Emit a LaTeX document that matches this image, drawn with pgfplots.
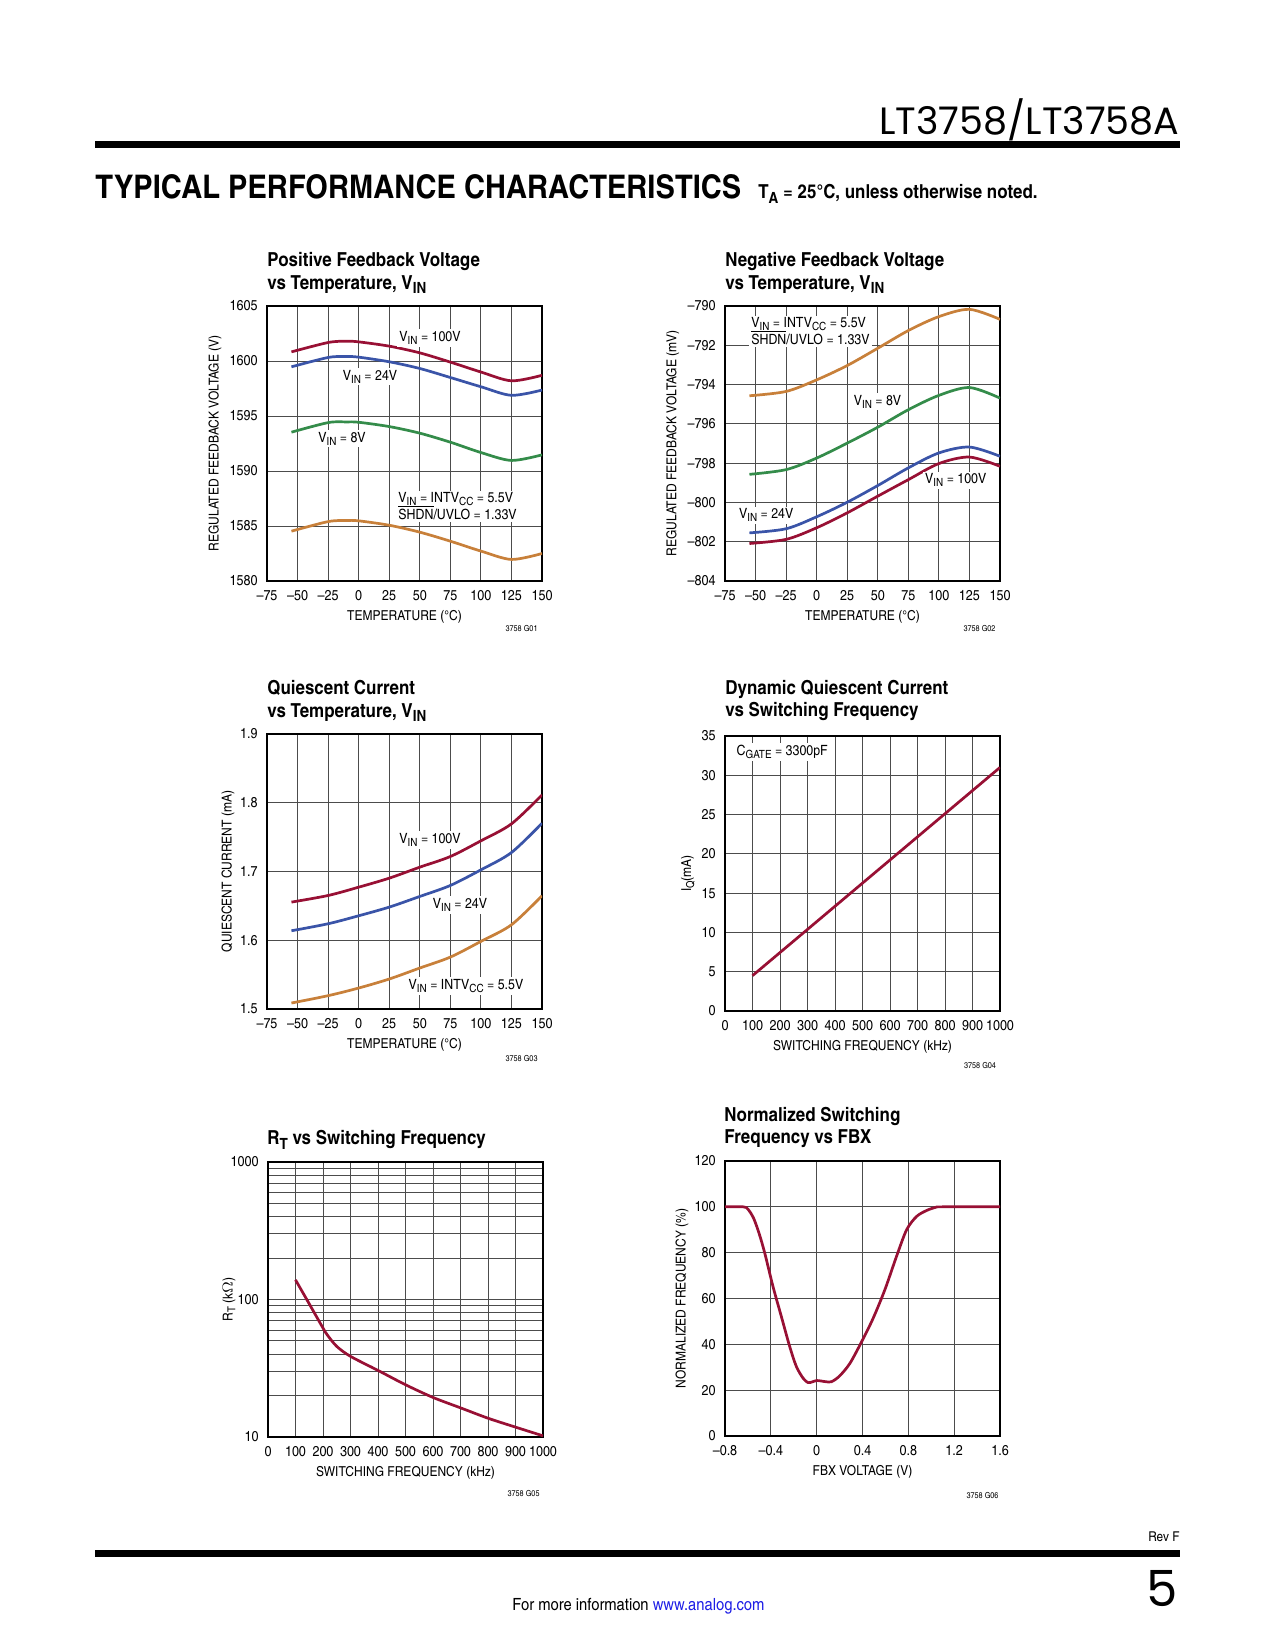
\documentclass[border=0pt]{standalone}
\usepackage{fontspec}
\setmainfont{texgyreheroscn}[Extension=.otf, UprightFont=*-regular, BoldFont=*-bold, ItalicFont=*-italic, BoldItalicFont=*-bolditalic, FakeStretch=1.07]
\newfontfamily\hdrfont{Poppins}
\usepackage{graphicx}
\usepackage{pgfplots}
\pgfplotsset{compat=1.18}

\definecolor{cred}{RGB}{152,16,52}
\definecolor{cblue}{RGB}{58,84,168}
\definecolor{cgreen}{RGB}{52,140,74}
\definecolor{corange}{RGB}{200,128,58}
\definecolor{linkblue}{RGB}{30,30,230}

\newcommand{\sub}[1]{\raisebox{-0.4ex}{\scalebox{0.8}{#1}}}

\pgfplotsset{
 lt/.style={
  scale only axis, width=132bp, height=132bp, anchor=north west,
  axis line style={line width=0.9bp, black},
  grid=major, major grid style={line width=0.45bp, black!70},
  minor grid style={line width=0.45bp, black!70},
  major tick length=0pt, minor tick length=0pt,
  tick label style={font=\fontsize{6.9}{8}\selectfont},
  xticklabel style={anchor=base, yshift=-9.4bp},
  yticklabel style={anchor=east, inner sep=0pt, xshift=-4.3bp},
  label style={font=\fontsize{6.6}{7.5}\selectfont},
  xlabel style={at={(axis description cs:0.5,-0.131)}, anchor=center},
 },
 crv/.style={line width=1.3bp, smooth},
}
\tikzset{lbl/.style={font=\fontsize{6.8}{7.8}\selectfont, fill=white, inner sep=1pt}}

\begin{document}
\begin{tikzpicture}
\fill[white] (0,0) rectangle (612bp,-792bp);
\path[use as bounding box] (0,0) rectangle (612bp,-792bp);

\begin{scope}[x=0.48bp,y=-0.48bp]
% header
\node[anchor=base east, inner sep=0] at (1180,135) {\resizebox{144bp}{!}{\hdrfont LT3758/LT3758A}};
\fill (95,141) rectangle (1180,148);
\node[anchor=base west, inner sep=0] at (95,199) {\resizebox{310bp}{11.5bp}{\bfseries TYPICAL PERFORMANCE CHARACTERISTICS}};
\node[anchor=base west, inner sep=0] at (758,199) {\resizebox{134bp}{!}{\fontsize{8.5}{10}\selectfont\bfseries T\sub{A} = 25°C, unless otherwise noted.}};
% footer
\node[anchor=base east, inner sep=0] at (1180,1542) {\fontsize{6.5}{8}\selectfont Rev F};
\fill (95,1550) rectangle (1180,1557);
\node[anchor=south east, inner sep=0] at (1178,1607) {\resizebox{!}{17.3bp}{\hdrfont 5}};
\node[anchor=base west, inner sep=0] at (512,1611) {\resizebox{121bp}{!}{For more information \textcolor{linkblue}{www.analog.com}}};
% chart titles
\tikzset{ttl/.style={anchor=base west, inner sep=0, font=\fontsize{9.3}{11}\selectfont\bfseries}}
\node[ttl] at (267,267) {Positive Feedback Voltage};
\node[ttl] at (267,289.5) {vs Temperature, V\sub{IN}};
\node[ttl] at (725,267) {Negative Feedback Voltage};
\node[ttl] at (725,289.5) {vs Temperature, V\sub{IN}};
\node[ttl] at (267,695) {Quiescent Current};
\node[ttl] at (267,717.5) {vs Temperature, V\sub{IN}};
\node[ttl] at (725,695) {Dynamic Quiescent Current};
\node[ttl] at (725,717) {vs Switching Frequency};
\node[ttl] at (267,1145) {R\sub{T} vs Switching Frequency};
\node[ttl] at (724,1121.5) {Normalized Switching};
\node[ttl] at (724,1144) {Frequency vs FBX};
% code labels
\tikzset{cde/.style={anchor=base east, inner sep=0, font=\fontsize{4}{5}\selectfont}}
\node[cde] at (538,631.5) {3758 G01};
\node[cde] at (996,632) {3758 G02};
\node[cde] at (538,1061.5) {3758 G03};
\node[cde] at (996.5,1069) {3758 G04};
\node[cde] at (540,1496.5) {3758 G05};
\node[cde] at (999,1499) {3758 G06};
\end{scope}

% ---------- Plot 1 ----------
\begin{axis}[lt, at={(128.16bp,-146.88bp)},
 xmin=-75, xmax=150, ymin=1580, ymax=1605,
 xtick={-75,-50,-25,0,25,50,75,100,125,150},
 xticklabels={\textendash75,\textendash50,\textendash25,0,25,50,75,100,125,150},
 ytick={1580,1585,1590,1595,1600,1605},
 yticklabels={1580,1585,1590,1595,1600,1605},
 xlabel={TEMPERATURE (°C)}, ylabel={REGULATED FEEDBACK VOLTAGE (V)},
 ylabel style={at={(axis description cs:-0.189,0.5)}, anchor=center}]
\addplot[cred, crv] coordinates {(-55,1600.83) (-25,1601.68) (-10,1601.8) (0,1601.74) (25,1601.35) (50,1600.74) (75,1599.9) (100,1599.0) (125,1598.2) (150,1598.7)};
\addplot[cblue, crv] coordinates {(-55,1599.47) (-25,1600.32) (-10,1600.41) (0,1600.35) (25,1599.93) (50,1599.32) (75,1598.5) (100,1597.66) (125,1596.88) (150,1597.36)};
\addplot[cgreen, crv] coordinates {(-55,1593.53) (-25,1594.4) (-10,1594.46) (0,1594.43) (25,1594.04) (50,1593.44) (75,1592.62) (100,1591.68) (125,1590.96) (150,1591.47)};
\addplot[corange, crv] coordinates {(-55,1584.53) (-25,1585.4) (-10,1585.5) (0,1585.47) (25,1585.07) (50,1584.44) (75,1583.62) (100,1582.72) (125,1581.96) (150,1582.5)};
\node[lbl] at (axis cs:58.4,1602.1) {V\sub{IN} = 100V};
\node[lbl] at (axis cs:9.3,1598.57) {V\sub{IN} = 24V};
\node[lbl] at (axis cs:-13.6,1592.95) {V\sub{IN} = 8V};
\node[lbl, anchor=west, align=left] at (axis cs:30.5,1586.8) {V\sub{IN} = INTV\sub{CC} = 5.5V\\[-1.5pt]$\overline{\mbox{SHDN}}$/UVLO = 1.33V};
\end{axis}

% ---------- Plot 2 ----------
\begin{axis}[lt, at={(348bp,-146.88bp)},
 xmin=-75, xmax=150, ymin=-804, ymax=-790,
 xtick={-75,-50,-25,0,25,50,75,100,125,150},
 xticklabels={\textendash75,\textendash50,\textendash25,0,25,50,75,100,125,150},
 ytick={-804,-802,-800,-798,-796,-794,-792,-790},
 yticklabels={\textendash804,\textendash802,\textendash800,\textendash798,\textendash796,\textendash794,\textendash792,\textendash790},
 xlabel={TEMPERATURE (°C)}, ylabel={REGULATED FEEDBACK VOLTAGE (mV)},
 ylabel style={at={(axis description cs:-0.19,0.5)}, anchor=center}]
\addplot[corange, crv] coordinates {(-55,-794.57) (-25,-794.35) (0,-793.76) (25,-793.03) (50,-792.15) (75,-791.25) (100,-790.54) (125,-790.17) (150,-790.68)};
\addplot[cgreen, crv] coordinates {(-55,-798.57) (-25,-798.33) (0,-797.74) (25,-796.98) (50,-796.17) (75,-795.28) (100,-794.55) (125,-794.15) (150,-794.69)};
\addplot[cblue, crv] coordinates {(-55,-801.55) (-25,-801.34) (0,-800.73) (25,-799.99) (50,-799.14) (75,-798.24) (100,-797.48) (125,-797.18) (150,-797.65)};
\addplot[cred, crv] coordinates {(-55,-802.09) (-25,-801.88) (0,-801.29) (25,-800.53) (50,-799.68) (75,-798.84) (100,-798.02) (125,-797.69) (150,-798.16)};
\node[lbl, anchor=west, align=left] at (axis cs:-55.5,-791.29) {V\sub{IN} = INTV\sub{CC} = 5.5V\\[-1.5pt]$\overline{\mbox{SHDN}}$/UVLO = 1.33V};
\node[lbl] at (axis cs:49.8,-794.87) {V\sub{IN} = 8V};
\node[lbl] at (axis cs:113.8,-798.87) {V\sub{IN} = 100V};
\node[lbl] at (axis cs:-41.3,-800.65) {V\sub{IN} = 24V};
\end{axis}

% ---------- Plot 3 ----------
\begin{axis}[lt, at={(128.16bp,-352.32bp)},
 xmin=-75, xmax=150, ymin=1.5, ymax=1.9,
 xtick={-75,-50,-25,0,25,50,75,100,125,150},
 xticklabels={\textendash75,\textendash50,\textendash25,0,25,50,75,100,125,150},
 ytick={1.5,1.6,1.7,1.8,1.9},
 yticklabels={1.5,1.6,1.7,1.8,1.9},
 xlabel={TEMPERATURE (°C)}, ylabel={QUIESCENT CURRENT (mA)},
 ylabel style={at={(axis description cs:-0.142,0.5)}, anchor=center}]
\addplot[cred, crv] coordinates {(-55,1.6555) (-25,1.6651) (0,1.6772) (25,1.6903) (50,1.7063) (75,1.7218) (100,1.7446) (125,1.7693) (150,1.8114)};
\addplot[cblue, crv] coordinates {(-55,1.6138) (-25,1.624) (0,1.6356) (25,1.6482) (50,1.6637) (75,1.6797) (100,1.7024) (125,1.7276) (150,1.7702)};
\addplot[corange, crv] coordinates {(-55,1.5087) (-25,1.5194) (0,1.5305) (25,1.5436) (50,1.5596) (75,1.5755) (100,1.5983) (125,1.6225) (150,1.6647)};
\node[lbl] at (axis cs:58.4,1.7458) {V\sub{IN} = 100V};
\node[lbl] at (axis cs:82.9,1.6512) {V\sub{IN} = 24V};
\node[lbl] at (axis cs:87.8,1.5334) {V\sub{IN} = INTV\sub{CC} = 5.5V};
\end{axis}

% ---------- Plot 4 ----------
\begin{axis}[lt, at={(348bp,-353.28bp)},
 xmin=0, xmax=1000, ymin=0, ymax=35,
 xtick={0,100,200,300,400,500,600,700,800,900,1000},
 xticklabels={0,100,200,300,400,500,600,700,800,900,1000},
 ytick={0,5,10,15,20,25,30,35},
 yticklabels={0,5,10,15,20,25,30,35},
 xlabel={SWITCHING FREQUENCY (kHz)}, ylabel={I\sub{Q}(mA)},
 ylabel style={at={(axis description cs:-0.135,0.5)}, anchor=center}]
\addplot[cred, line width=1.3bp] coordinates {(100,4.5) (1000,31.0)};
\node[lbl] at (axis cs:208,32.96) {C\sub{GATE} = 3300pF};
\end{axis}

% ---------- Plot 5 ----------
\begin{axis}[lt, at={(128.64bp,-557.76bp)},
 ymode=log,
 xmin=0, xmax=1000, ymin=10, ymax=1000,
 xtick={0,100,200,300,400,500,600,700,800,900,1000},
 xticklabels={0,100,200,300,400,500,600,700,800,900,1000},
 ytick={10,100,1000}, yticklabels={10,100,1000},
 minor ytick={20,30,40,50,60,70,80,90,200,300,400,500,600,700,800,900},
 yminorgrids=true,
 xlabel={SWITCHING FREQUENCY (kHz)}, ylabel={R\sub{T} (k\ensuremath{\Omega})},
 ylabel style={at={(axis description cs:-0.142,0.5)}, anchor=center}]
\addplot[cred, crv] coordinates {(100,139) (150,93) (200,62) (215,55.5) (250,45.6) (300,38.6) (400,30.5) (500,24.0) (600,19.4) (700,16.3) (800,13.7) (900,11.8) (1000,10.2)};
\end{axis}

% ---------- Plot 6 ----------
\begin{axis}[lt, at={(348bp,-557.28bp)},
 xmin=-0.8, xmax=1.6, ymin=0, ymax=120,
 xtick={-0.8,-0.4,0,0.4,0.8,1.2,1.6},
 xticklabels={\textendash0.8,\textendash0.4,0,0.4,0.8,1.2,1.6},
 ytick={0,20,40,60,80,100,120},
 yticklabels={0,20,40,60,80,100,120},
 xlabel={FBX VOLTAGE (V)}, ylabel={NORMALIZED FREQUENCY (\%)},
 ylabel style={at={(axis description cs:-0.156,0.5)}, anchor=center}]
\addplot[cred, line width=1.3bp, smooth, tension=0.5] coordinates {(-0.8,100) (-0.64,100) (-0.6,99) (-0.55,95) (-0.5,88) (-0.453,79.8) (-0.381,65.2) (-0.308,52.1) (-0.235,39.0) (-0.177,30.3) (-0.118,25.2) (-0.075,23.3) (-0.04,23.6) (0,24.2) (0.04,24) (0.08,23.7) (0.13,23.7) (0.2,26.2) (0.29,31.7) (0.397,41.6) (0.493,51.4) (0.595,63.8) (0.697,78.4) (0.785,90.0) (0.872,95.8) (0.959,98.4) (1.04,99.8) (1.1,100) (1.6,100)};
\end{axis}

\end{tikzpicture}
\end{document}
